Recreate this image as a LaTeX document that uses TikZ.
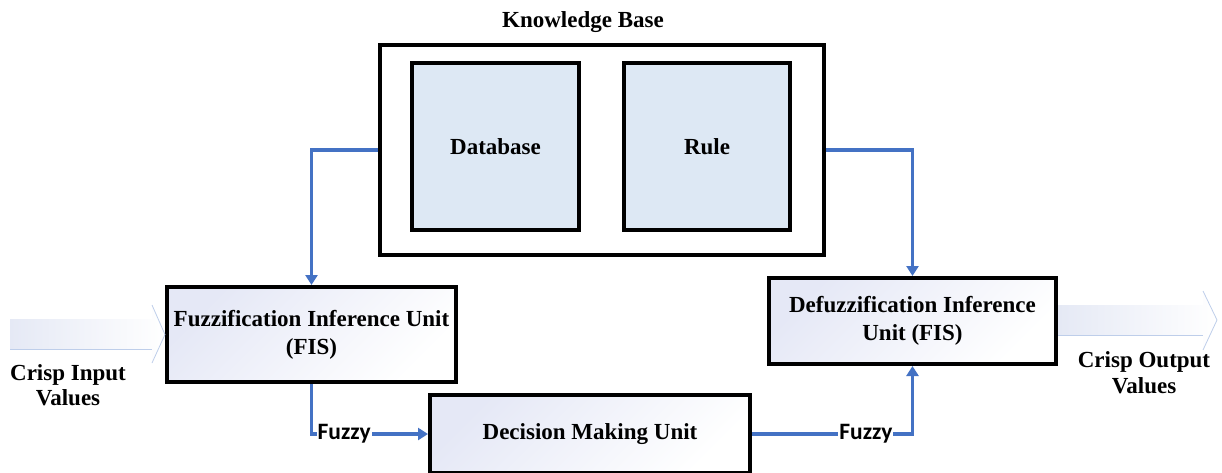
\documentclass[tikz,border=0pt]{standalone}
\usepackage{fontspec}
\setmainfont{Liberation Serif}
\newfontfamily\labelfont{Carlito}
\usetikzlibrary{arrows.meta}

\definecolor{linkblue}{RGB}{68,114,196}
\definecolor{kbfill}{RGB}{221,232,244}
\definecolor{unitshade}{RGB}{229,232,246}
\definecolor{crispshade}{RGB}{229,233,245}
\definecolor{crispedge}{RGB}{190,206,234}

\begin{document}
\begin{tikzpicture}[x=1pt,y=-1pt,
  box/.style={draw=black, line width=4pt, rectangle, inner sep=0pt, align=center,
    font=\fontsize{23}{28}\selectfont\bfseries},
  unit/.style={box, top color=unitshade, bottom color=white, shading angle=45},
  store/.style={box, fill=kbfill},
  link/.style={draw=linkblue, line width=3.4pt, -{Triangle[width=12pt,length=10pt]}},
  tag/.style={fill=white, inner sep=1pt, font=\labelfont\bfseries\fontsize{23.5}{25}\selectfont},
  caption/.style={align=center, font=\fontsize{23}{26}\selectfont\bfseries},
  crisp/.style={left color=crispshade, right color=white},
  crispline/.style={draw=crispedge, line width=0.8pt}
]
\useasboundingbox (0,0) rectangle (1222,472);

% knowledge base with its two stores
\node[caption] (kbtitle) at (583,22) {Knowledge Base};
\node[box, minimum width=443.5pt, minimum height=210pt] (kb) at (602,150) {};
\node[store, minimum width=167pt, minimum height=167pt] (db) at (495.5,146.5) {Database};
\node[store, minimum width=166pt, minimum height=167pt] (rule) at (707,146.5) {Rule};

% processing units
\node[unit, minimum width=289pt, minimum height=95pt] (fuzz) at (311.5,334.5)
  {Fuzzification Inference Unit\\(FIS)};
\node[unit, minimum width=287pt, minimum height=86pt] (defuzz) at (912.5,321)
  {Defuzzification Inference\\Unit (FIS)};
\node[unit, minimum width=320pt, minimum height=78pt] (dec) at (590,434)
  {Decision Making Unit};

% connectors
\draw[link] (kb.west) -| (fuzz.north);
\draw[link] (kb.east) -| (defuzz.north);
\draw[link] (fuzz.south) |- node[tag, pos=0.64] (fz1) {Fuzzy} (dec.west);
\draw[link] (dec.east) -| node[tag, pos=0.355] (fz2) {Fuzzy} (defuzz.south);

% crisp input block arrow
\coordinate (intip) at (fuzz.west);
\path[crisp] (10,319) -- (152,319) -- (152,305) -- (intip) -- (152,363)
  -- (152,349) -- (10,349) -- cycle;
\draw[crispline] (10,349) -- (152,349);
\draw[crispline] (152,305) -- (intip) -- (152,363);
\node[caption, font=\fontsize{23}{25}\selectfont\bfseries] (inlabel) at (68,385) {Crisp Input\\Values};

% crisp output block arrow
\coordinate (outbase) at (defuzz.east);
\coordinate (outtip) at (1217,320);
\path[crisp] (outbase |- 0,305) -- (1203,305) -- (1203,291) -- (outtip) -- (1203,350)
  -- (1203,335) -- (outbase |- 0,335) -- cycle;
\draw[crispline] (outbase |- 0,335) -- (1203,335);
\draw[crispline] (1203,291) -- (outtip) -- (1203,350);
\node[caption] (outlabel) at (1144,373) {Crisp Output\\Values};
\end{tikzpicture}
\end{document}
